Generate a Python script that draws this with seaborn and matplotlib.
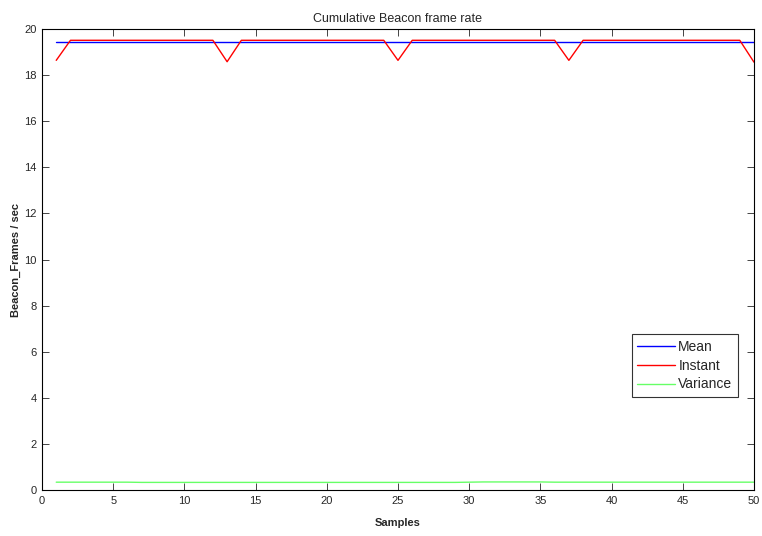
import numpy as np
import pandas as pd
import matplotlib
matplotlib.use("Agg")
import matplotlib.pyplot as plt
import seaborn as sns

sns.set_style("white")
plt.rcParams['font.family'] = ['Liberation Sans', 'DejaVu Sans']

samples = list(range(1, 51))
mean = [19.42] * 50
instant = [18.64] + [19.51] * 11 + [18.58] + [19.51] * 11 + [18.64] + \
          [19.51] * 11 + [18.64] + [19.51] * 12 + [18.56]
variance = [0.34, 0.34, 0.34, 0.34, 0.34, 0.34, 0.33, 0.33, 0.33, 0.33,
            0.33, 0.33, 0.33, 0.33, 0.33, 0.33, 0.33, 0.33, 0.33, 0.33,
            0.33, 0.33, 0.33, 0.33, 0.33, 0.33, 0.33, 0.33, 0.33, 0.34,
            0.35, 0.35, 0.35, 0.35, 0.35, 0.34, 0.34, 0.34, 0.34, 0.34,
            0.34, 0.34, 0.34, 0.34, 0.34, 0.34, 0.34, 0.34, 0.34, 0.34]

df = pd.DataFrame({"Samples": samples * 3,
                   "value": mean + instant + variance,
                   "series": ["Mean"] * 50 + ["Instant"] * 50 + ["Variance"] * 50})

fig = plt.figure(figsize=(7.62, 5.36), dpi=100)
ax = fig.add_axes([0.0551, 0.0858, 0.9344, 0.8601])
palette = {"Mean": "#0000ff", "Instant": "#ff0000", "Variance": "#66ff66"}
sns.lineplot(data=df, x="Samples", y="value", hue="series", palette=palette,
             linewidth=1, ax=ax)

ax.set_xlim(0, 50)
ax.set_ylim(0, 20)
ax.set_xticks(range(0, 51, 5))
ax.set_yticks(range(0, 21, 2))
ax.tick_params(direction="in", top=True, right=True, bottom=True, left=True,
               length=5, width=0.6, labelsize=8, pad=4)
for s in ax.spines.values():
    s.set_color("black")
    s.set_linewidth(0.8)
ax.set_title("Cumulative Beacon frame rate", fontsize=9, pad=5)
ax.set_xlabel("Samples", fontsize=8, fontweight="bold", labelpad=9)
ax.set_ylabel("Beacon_Frames / sec", fontsize=8, fontweight="bold", labelpad=2)

leg = ax.legend(loc="upper right", bbox_to_anchor=(0.9775, 0.338), fontsize=10,
                frameon=True, fancybox=False, edgecolor="black",
                borderpad=0.4, labelspacing=0.35, handlelength=2.7,
                handletextpad=0.25, borderaxespad=0)
leg.get_frame().set_linewidth(0.8)

fig.savefig("out.png", dpi=100)
